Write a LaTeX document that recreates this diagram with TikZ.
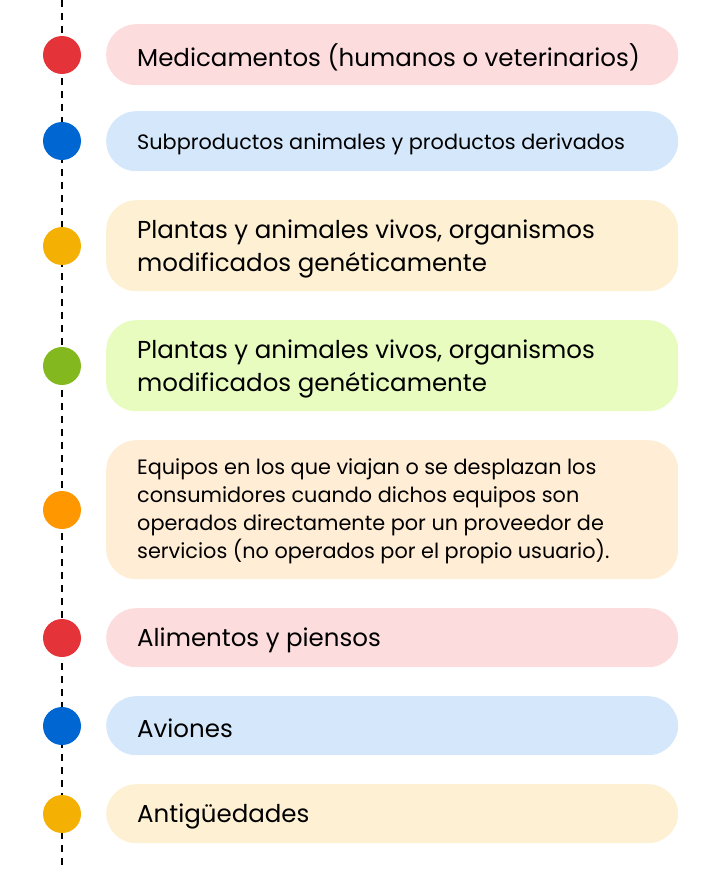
\documentclass[tikz,border=0pt]{standalone}
\usepackage{fontspec}
\setmainfont{Poppins}
\definecolor{cRed}{HTML}{E5333A}
\definecolor{bRed}{HTML}{FDDCDD}
\definecolor{cBlue}{HTML}{0066D1}
\definecolor{bBlue}{HTML}{D4E7FB}
\definecolor{cYel}{HTML}{F5B004}
\definecolor{bYel}{HTML}{FEF0D2}
\definecolor{cGreen}{HTML}{83B81E}
\definecolor{bGreen}{HTML}{E8FCC0}
\definecolor{cOr}{HTML}{FF9800}
\definecolor{bOr}{HTML}{FFEDD5}
\begin{document}
\begin{tikzpicture}[x=1pt,y=-1pt,
  dot/.style={circle,fill=#1,minimum size=38pt,inner sep=0pt},
  item/.style={rectangle,rounded corners=30pt,fill=#1,anchor=north west,
    minimum width=572pt,inner sep=0pt},
  lbl/.style={anchor=west,inner sep=0pt,align=left},
  big/.style={font=\fontsize{24.5}{33}\selectfont},
  small/.style={font=\fontsize{20.8}{28}\selectfont}]
\useasboundingbox (0,0) rectangle (722,872);
\coordinate (top) at (62,0);
\coordinate (bot) at (62,868);
\draw[line width=2pt,dash pattern=on 7pt off 6pt] (top) -- (bot);
\node[item=bRed,minimum height=61pt] (b1) at (106,24) {};
\node[item=bBlue,minimum height=60pt] (b2) at (106,111) {};
\node[item=bYel,minimum height=91pt] (b3) at (106,200) {};
\node[item=bGreen,minimum height=91pt] (b4) at (106,320) {};
\node[item=bOr,minimum height=139pt] (b5) at (106,440) {};
\node[item=bRed,minimum height=59pt] (b6) at (106,608) {};
\node[item=bBlue,minimum height=59pt] (b7) at (106,696) {};
\node[item=bYel,minimum height=59pt] (b8) at (106,784) {};
\node[lbl,big] (t1) at ([xshift=31pt,yshift=-3pt]b1.west) {Medicamentos (humanos o veterinarios)};
\node[lbl,small] (t2) at ([xshift=31pt,yshift=-3pt]b2.west) {Subproductos animales y productos derivados};
\node[lbl,big] (t3) at ([xshift=31pt,yshift=-3pt]b3.west) {Plantas y animales vivos, organismos\\modificados genéticamente};
\node[lbl,big] (t4) at ([xshift=31pt,yshift=-3pt]b4.west) {Plantas y animales vivos, organismos\\modificados genéticamente};
\node[lbl,small] (t5) at ([xshift=31pt,yshift=-2pt]b5.west) {Equipos en los que viajan o se desplazan los\\consumidores cuando dichos equipos son\\operados directamente por un proveedor de\\servicios (no operados por el propio usuario).};
\node[lbl,big] (t6) at ([xshift=31pt,yshift=-3pt]b6.west) {Alimentos y piensos};
\node[lbl,big] (t7) at ([xshift=31pt,yshift=-3pt]b7.west) {Aviones};
\node[lbl,big] (t8) at ([xshift=31pt,yshift=-3pt]b8.west) {Antigüedades};
\node[dot=cRed] (d1) at (62,55) {};
\node[dot=cBlue] (d2) at (62,141) {};
\node[dot=cYel] (d3) at (62,246) {};
\node[dot=cGreen] (d4) at (62,366) {};
\node[dot=cOr] (d5) at (62,510) {};
\node[dot=cRed] (d6) at (62,638) {};
\node[dot=cBlue] (d7) at (62,726) {};
\node[dot=cYel] (d8) at (62,814) {};
\end{tikzpicture}
\end{document}
